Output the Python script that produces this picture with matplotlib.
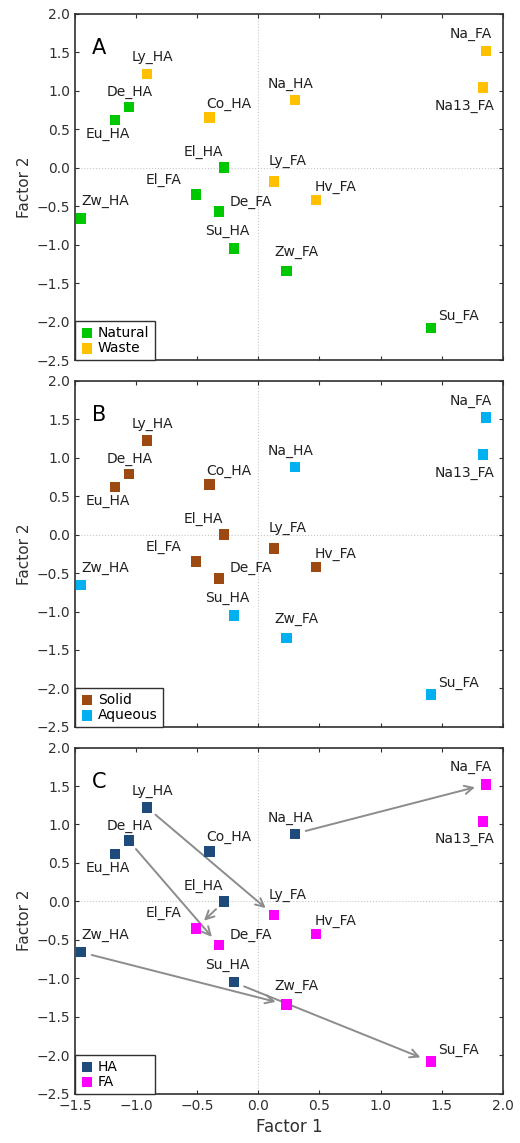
import numpy as np
import matplotlib.pyplot as plt

# sample names and factor scores
names = ['Ly_HA', 'De_HA', 'Eu_HA', 'Co_HA', 'Na_HA', 'El_HA', 'Zw_HA', 'Su_HA',
         'Na_FA', 'Na13_FA', 'Ly_FA', 'Hv_FA', 'El_FA', 'De_FA', 'Zw_FA', 'Su_FA']
factor1 = [-0.91, -1.06, -1.17, -0.40, 0.30, -0.28, -1.45, -0.20,
           1.86, 1.84, 0.13, 0.47, -0.51, -0.32, 0.23, 1.41]
factor2 = [1.22, 0.79, 0.62, 0.65, 0.88, 0.00, -0.66, -1.05,
           1.52, 1.04, -0.18, -0.42, -0.35, -0.57, -1.34, -2.08]

# groupings used in the three panels
origin = ['Waste', 'Natural', 'Natural', 'Waste', 'Waste', 'Natural', 'Natural', 'Natural',
          'Waste', 'Waste', 'Waste', 'Waste', 'Natural', 'Natural', 'Natural', 'Natural']
state = ['Solid', 'Solid', 'Solid', 'Solid', 'Aqueous', 'Solid', 'Aqueous', 'Aqueous',
         'Aqueous', 'Aqueous', 'Solid', 'Solid', 'Solid', 'Solid', 'Aqueous', 'Aqueous']
fraction = [n.split('_')[1] for n in names]

# HA -> FA arrows in panel C
arrows = [('Ly_HA', 'Ly_FA'), ('De_HA', 'De_FA'), ('El_HA', 'El_FA'),
          ('Zw_HA', 'Zw_FA'), ('Su_HA', 'Su_FA'), ('Na_HA', 'Na_FA')]

# label offsets in pixels (text centre relative to the marker)
offsets = {'Ly_HA': (5, 17), 'De_HA': (1, 15), 'Eu_HA': (-7, -14), 'Co_HA': (19, 14),
           'Na_HA': (-4, 16), 'El_HA': (-21, 16), 'Zw_HA': (24, 17), 'Su_HA': (-7, 17),
           'Na_FA': (-15, 17), 'Na13_FA': (-19, -18), 'Ly_FA': (13, 20), 'Hv_FA': (20, 13),
           'El_FA': (-32, 15), 'De_FA': (32, 10), 'Zw_FA': (10, 19), 'Su_FA': (28, 12)}

panels = [('A', origin, ['Natural', 'Waste'], ['#00c800', '#ffc000']),
          ('B', state, ['Solid', 'Aqueous'], ['#9c4a12', '#00b0f0']),
          ('C', fraction, ['HA', 'FA'], ['#1f4a7c', '#ff00ff'])]

fig = plt.figure(figsize=(5.2, 11.43), dpi=100)
bottoms = [0.685, 0.364, 0.043]

x = np.array(factor1)
y = np.array(factor2)

for (letter, groups, cats, cols), b in zip(panels, bottoms):
    ax = fig.add_axes([0.144, b, 0.823, 0.303])
    ax.axhline(0, color='#c8c8c8', lw=0.8, ls=':', zorder=0)
    ax.axvline(0, color='#c8c8c8', lw=0.8, ls=':', zorder=0)

    if letter == 'C':
        for a, t in arrows:
            i, j = names.index(a), names.index(t)
            ax.annotate('', xy=(x[j], y[j]), xytext=(x[i], y[i]),
                        arrowprops=dict(arrowstyle='->,head_length=0.6,head_width=0.3',
                                        color='#8c8c8c', lw=1.4, shrinkA=8, shrinkB=8),
                        zorder=1)

    g = np.array(groups)
    for c, col in zip(cats, cols):
        m = g == c
        ax.scatter(x[m], y[m], marker='s', s=55, color=col, label=c, zorder=3,
                   edgecolors='none')

    for n, xi, yi in zip(names, x, y):
        dx, dy = offsets[n]
        ax.annotate(n, (xi, yi), xytext=(dx, dy), textcoords='offset pixels',
                    ha='center', va='center', fontsize=10, color='#202020')

    ax.text(0.04, 0.9, letter, transform=ax.transAxes, fontsize=15, va='center')

    ax.set_xlim(-1.5, 2.0)
    ax.set_ylim(-2.5, 2.0)
    ax.set_xticks(np.arange(-1.5, 2.01, 0.5))
    ax.set_yticks(np.arange(-2.5, 2.01, 0.5))
    ax.tick_params(direction='in', top=True, right=True, labelsize=10, length=3,
                   colors='#303030')
    for s in ax.spines.values():
        s.set_linewidth(1.2)
        s.set_color('#303030')
    ax.set_ylabel('Factor 2', fontsize=11, color='#303030', labelpad=3)
    if letter == 'C':
        ax.set_xlabel('Factor 1', fontsize=12, color='#303030')
    else:
        ax.set_xticklabels([])

    legw = 0.205 if letter == 'B' else 0.188
    leg = ax.legend(loc='lower left', bbox_to_anchor=(0, 0, legw, 0.12), mode='expand',
                    borderaxespad=0, fancybox=False,
                    edgecolor='#303030', fontsize=10, handletextpad=0.3,
                    handlelength=1.0, labelspacing=0.1, borderpad=0.35,
                    framealpha=1, markerscale=1.0)
    leg.get_frame().set_linewidth(1.0)

fig.savefig('out.png', dpi=100)
